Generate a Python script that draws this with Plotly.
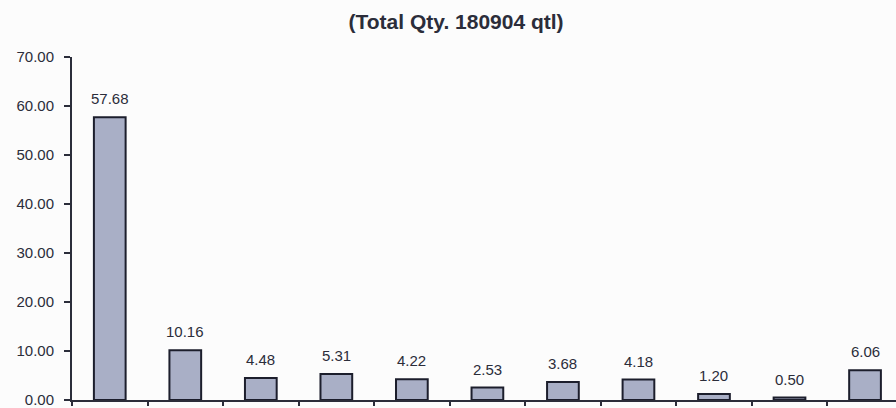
import plotly.graph_objects as go

# Share (%) of total quantity by group
categories = ["G1", "G2", "G3", "G4", "G5", "G6", "G7", "G8", "G9", "G10", "G11"]
shares = [57.68, 10.16, 4.48, 5.31, 4.22, 2.53, 3.68, 4.18, 1.20, 0.50, 6.06]
y_ticks = [0, 10, 20, 30, 40, 50, 60, 70]
title_text = "(Total Qty. 180904 qtl)"

font_family = "Liberation Sans, Arial, sans-serif"
ink = "#2b2d3a"

fig = go.Figure(
    go.Bar(
        x=categories,
        y=shares,
        marker=dict(color="#a9afc6", line=dict(color="#1c1e2c", width=2)),
        hoverinfo="x+y",
    )
)

# value labels above each bar
for cat, val in zip(categories, shares):
    fig.add_annotation(
        x=cat, y=val, text=f"{val:.2f}", showarrow=False,
        yanchor="bottom", yshift=8,
        font=dict(family=font_family, size=15, color=ink),
    )

fig.update_layout(
    width=896, height=408,
    margin=dict(l=72, r=0, t=57, b=6),
    paper_bgcolor="#fcfcfc", plot_bgcolor="#fcfcfc",
    bargap=0.58,
    showlegend=False,
    title=dict(
        text=f"<b>{title_text}</b>", x=0.509, xanchor="center",
        y=0.946, yanchor="middle",
        font=dict(family=font_family, size=21, color=ink),
    ),
    xaxis=dict(
        type="category", range=[-0.5, 10.41],
        showticklabels=False, tickson="boundaries",
        ticks="outside", ticklen=4, tickcolor=ink, tickwidth=1.5,
        showline=True, linecolor=ink, linewidth=2,
        showgrid=False, zeroline=False,
    ),
    yaxis=dict(
        range=[0, 70], tickvals=y_ticks,
        ticktext=[f"{v:.2f}" for v in y_ticks],
        ticks="outside", ticklen=6, tickcolor=ink, tickwidth=1.5,
        ticklabelstandoff=7, ticklabeloverflow="allow",
        showline=True, linecolor=ink, linewidth=2,
        showgrid=False, zeroline=False,
        tickfont=dict(family=font_family, size=15, color=ink),
    ),
)

fig.write_html("out.html")
